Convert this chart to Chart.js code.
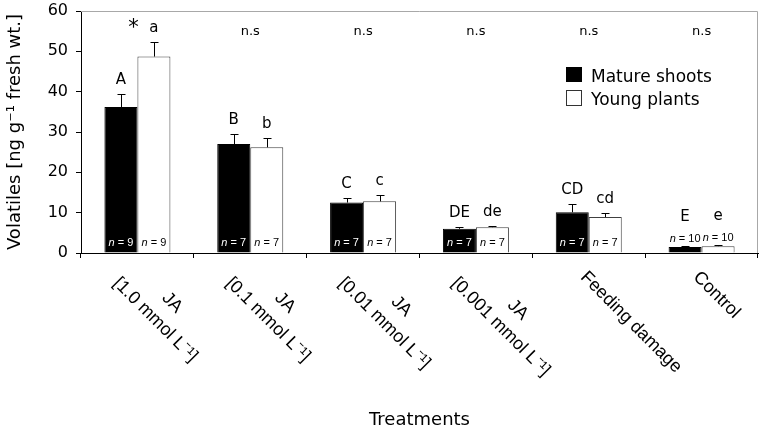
<!DOCTYPE html>
<html>
<head>
<meta charset="utf-8">
<script src="https://cdn.jsdelivr.net/npm/chart.js@4.4.1/dist/chart.umd.min.js"></script>
<style>
  html, body { margin: 0; padding: 0; background: #fff; }
  #wrap { width: 763px; height: 434px; position: relative; }
</style>
</head>
<body>
<div id="wrap"><canvas id="volatileChart"></canvas></div>
<script>
const treatments = [
  ["JA", "[1.0 mmol L⁻¹]"],
  ["JA", "[0.1 mmol L⁻¹]"],
  ["JA", "[0.01 mmol L⁻¹]"],
  ["JA", "[0.001 mmol L⁻¹]"],
  ["Feeding damage"],
  ["Control"]
];
const matureShoots = [36.2, 27.0, 12.5, 6.0, 10.1, 1.5];
const youngPlants = [48.7, 26.2, 12.8, 6.4, 8.9, 1.7];
const matureErr = [3.2, 2.6, 1.1, 0.5, 2.0, 0.2];
const youngErr = [3.6, 2.3, 1.7, 0.4, 0.9, 0.2];
const matureLetters = ["A", "B", "C", "DE", "CD", "E"];
const youngLetters = ["a", "b", "c", "de", "cd", "e"];
const sampleSizes = [9, 7, 7, 7, 7, 10];
const significance = ["*", "n.s", "n.s", "n.s", "n.s", "n.s"];
const yTicks = [0, 10, 20, 30, 40, 50, 60];

Chart.defaults.font.family = "'DejaVu Sans', Verdana, sans-serif";
Chart.defaults.color = "#000";

const errorSets = [matureErr, youngErr];
const letterSets = [matureLetters, youngLetters];

function errTop(chart, d, i) {
  const ds = chart.data.datasets[d];
  return chart.scales.y.getPixelForValue(ds.data[i] + errorSets[d][i]);
}

// upper whiskers only, like the original
const errorBars = {
  id: "errorBars",
  afterDatasetsDraw(chart) {
    const ctx = chart.ctx;
    ctx.save();
    ctx.strokeStyle = "#000";
    ctx.lineWidth = 1;
    chart.data.datasets.forEach((ds, d) => {
      chart.getDatasetMeta(d).data.forEach((bar, i) => {
        const x = Math.round(bar.x) + 0.5;
        const top = Math.round(errTop(chart, d, i)) + 0.5;
        ctx.beginPath();
        ctx.moveTo(x, bar.y);
        ctx.lineTo(x, top);
        ctx.moveTo(x - 4, top);
        ctx.lineTo(x + 4, top);
        ctx.stroke();
      });
    });
    ctx.restore();
  }
};

function drawN(ctx, n, x, y, color) {
  const italic = "italic 11px 'Liberation Sans', Arial, sans-serif";
  const normal = "11px 'Liberation Sans', Arial, sans-serif";
  const rest = " = " + n;
  ctx.font = italic;
  const w1 = ctx.measureText("n").width;
  ctx.font = normal;
  const w2 = ctx.measureText(rest).width;
  const start = x - (w1 + w2) / 2;
  ctx.fillStyle = color;
  ctx.textAlign = "left";
  ctx.font = italic;
  ctx.fillText("n", start, y);
  ctx.font = normal;
  ctx.fillText(rest, start + w1, y);
}

const annotations = {
  id: "annotations",
  afterDraw(chart) {
    const ctx = chart.ctx;
    const area = chart.chartArea;
    const xs = chart.scales.x;
    ctx.save();

    // plot frame, top and right
    ctx.strokeStyle = "#a8a8a8";
    ctx.lineWidth = 1;
    ctx.beginPath();
    ctx.moveTo(area.left, area.top + 0.5);
    ctx.lineTo(area.right - 0.5, area.top + 0.5);
    ctx.lineTo(area.right - 0.5, area.bottom);
    ctx.stroke();

    ctx.textBaseline = "alphabetic";
    chart.data.datasets.forEach((ds, d) => {
      chart.getDatasetMeta(d).data.forEach((bar, i) => {
        const top = errTop(chart, d, i);
        const tall = bar.base - bar.y > 20;
        let letterY = top - 10;
        if (tall) {
          drawN(ctx, sampleSizes[i], bar.x, bar.base - 7, d === 0 ? "#fff" : "#000");
        } else {
          drawN(ctx, sampleSizes[i], bar.x, top - 4, "#000");
          letterY = top - 25;
        }
        ctx.fillStyle = "#000";
        ctx.textAlign = "center";
        ctx.font = "15px 'DejaVu Sans', Verdana, sans-serif";
        ctx.fillText(letterSets[d][i], bar.x, letterY);
      });
    });

    ctx.fillStyle = "#000";
    ctx.textAlign = "center";
    significance.forEach((s, i) => {
      const cx = xs.getPixelForValue(i);
      if (s === "*") {
        ctx.font = "21px 'DejaVu Sans', Verdana, sans-serif";
        ctx.fillText(s, cx - 4, 34);
      } else {
        ctx.font = "13px 'DejaVu Sans', Verdana, sans-serif";
        ctx.fillText(s, cx, 35);
      }
    });

    // category labels, turned 45 degrees clockwise
    ctx.font = "18px 'Liberation Sans', Arial, sans-serif";
    ctx.textAlign = "left";
    const lh = 24;
    chart.data.labels.forEach((lines, i) => {
      const cx = xs.getPixelForValue(i);
      const widths = lines.map(l => ctx.measureText(l).width);
      const W = Math.max(...widths);
      const ox = lines.length > 1 ? cx - 25 : cx - 9;
      const oy = lines.length > 1 ? 284 : 278;
      ctx.save();
      ctx.translate(ox, oy);
      ctx.rotate(Math.PI / 4);
      lines.forEach((l, k) => {
        ctx.fillText(l, (W - widths[k]) / 2, -(lines.length - 1 - k) * lh);
      });
      ctx.restore();
    });

    // legend
    const lx = area.right - 192;
    const ly = area.top + 56;
    ctx.fillStyle = "#000";
    ctx.fillRect(lx, ly, 16, 15);
    ctx.fillStyle = "#fff";
    ctx.fillRect(lx, ly + 23, 16, 15);
    ctx.strokeStyle = "#333";
    ctx.strokeRect(lx + 0.5, ly + 23.5, 15, 15);
    ctx.fillStyle = "#000";
    ctx.font = "17px 'DejaVu Sans', Verdana, sans-serif";
    ctx.fillText(chart.data.datasets[0].label, lx + 25, ly + 15);
    ctx.fillText(chart.data.datasets[1].label, lx + 25, ly + 38);

    ctx.restore();
  }
};

new Chart(document.getElementById("volatileChart"), {
  type: "bar",
  data: {
    labels: treatments,
    datasets: [
      {
        label: "Mature shoots",
        data: matureShoots,
        backgroundColor: "#000",
        borderColor: "#000",
        borderWidth: 1,
        categoryPercentage: 0.585,
        barPercentage: 1.0
      },
      {
        label: "Young plants",
        data: youngPlants,
        backgroundColor: "#fff",
        borderColor: "#404040",
        borderWidth: 1,
        categoryPercentage: 0.585,
        barPercentage: 1.0
      }
    ]
  },
  options: {
    responsive: true,
    maintainAspectRatio: false,
    animation: false,
    layout: { padding: { top: 11, right: 5, left: 0, bottom: 0 } },
    plugins: {
      legend: { display: false },
      tooltip: { enabled: false }
    },
    scales: {
      x: {
        offset: true,
        grid: { drawOnChartArea: false, tickLength: 5, color: "#000" },
        border: { color: "#000" },
        ticks: { display: false },
        title: {
          display: true,
          text: "Treatments",
          font: { size: 18 },
          padding: { top: 0, bottom: 3 }
        },
        afterFit(scale) { scale.height = 181; }
      },
      y: {
        min: 0,
        max: 60,
        afterBuildTicks(scale) { scale.ticks = yTicks.map(v => ({ value: v })); },
        grid: { drawOnChartArea: false, tickLength: 5, color: "#000" },
        border: { color: "#000" },
        ticks: { font: { size: 16 }, padding: 8 },
        title: {
          display: true,
          text: "Volatiles [ng g⁻¹ fresh wt.]",
          font: { size: 18 },
          padding: { top: 5, bottom: 5 }
        },
        afterFit(scale) {
          scale.width = 81;
          scale.paddingTop = 0;
          scale.paddingBottom = 0;
        }
      }
    }
  },
  plugins: [errorBars, annotations]
});
</script>
</body>
</html>
